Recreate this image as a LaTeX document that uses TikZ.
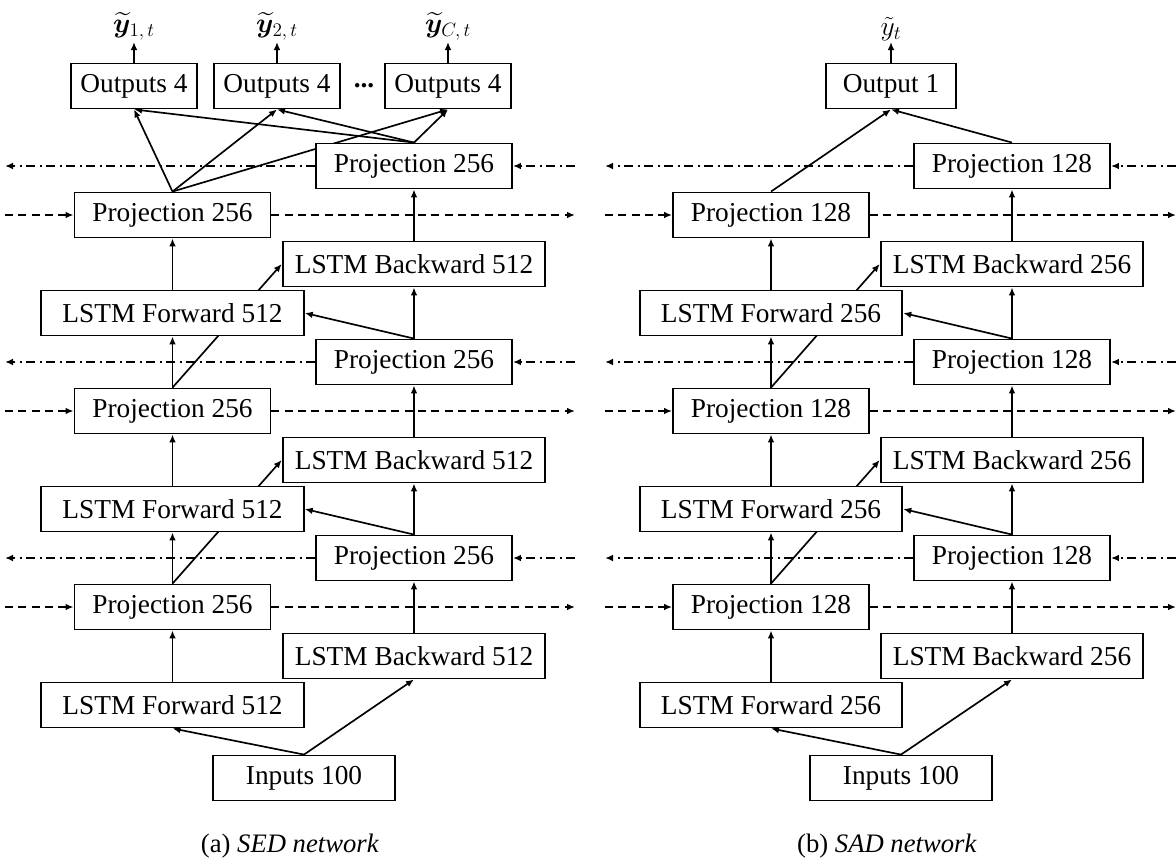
\documentclass[tikz,border=0pt]{standalone}
\usepackage{amsmath}
\usepackage{bm}
\usepackage{fontspec}
\setmainfont{Liberation Serif}
\usetikzlibrary{arrows.meta,backgrounds}

\tikzset{
  box/.style={draw, line width=1.4pt, fill=white, minimum height=33.75pt,
    inner sep=0pt, font=\fontsize{20.5}{23}\selectfont},
  projbox/.style={box, minimum width=147pt},
  lstmbox/.style={box, minimum width=197pt},
  outbox/.style={box, minimum width=94pt},
  inbox/.style={box, minimum width=136.5pt},
  lab/.style={anchor=south, inner sep=1pt, font=\fontsize{22}{24}\selectfont},
  link/.style={line width=1.25pt, -{Latex[length=6pt,width=5pt]}},
  fwdflow/.style={link, dash pattern=on 6pt off 4pt},
  bwdflow/.style={link, dash pattern=on 6.5pt off 3.5pt on 1.5pt off 3.5pt},
}
% subscript of the output labels, set a little larger than \scriptstyle
\newcommand\outsub[1]{\mbox{\fontsize{15.5}{16}\selectfont$#1$}}

% One bidirectional stack:
% #1 prefix, #2 forward column x, #3 backward column x, #4 LSTM units,
% #5 projection units, #6 left end of the flow lines, #7 right end, #8 input x
\newcommand\lstmstack[8]{%
  \coordinate (#1L) at (#6,0);
  \coordinate (#1R) at (#7,0);
  \node[inbox] (#1in) at (#8,778) {Inputs 100};
  \foreach \k in {1,2,3}{
    \pgfmathsetmacro\yF{705-196*(\k-1)}
    \node[lstmbox] (#1F\k) at (#2,\yF) {LSTM Forward #4};
    \node[lstmbox] (#1B\k) at (#3,\yF-49) {LSTM Backward #4};
    \node[projbox] (#1P\k) at (#2,\yF-98) {Projection #5};
    \node[projbox] (#1Q\k) at (#3,\yF-147) {Projection #5};
  }
  \begin{scope}[on background layer]
    \draw[link] (#1in.north) -- (#1F1.south);
    \draw[link] (#1in.north) -- (#1B1.south);
    \foreach \k in {1,2,3}{
      \draw[link] (#1F\k.north) -- (#1P\k.south);
      \draw[link] (#1B\k.north) -- (#1Q\k.south);
      \draw[fwdflow] (#1P\k.west -| #1L) -- (#1P\k.west);
      \draw[fwdflow] (#1P\k.east) -- (#1P\k.east -| #1R);
      \draw[bwdflow] (#1Q\k.east -| #1R) -- (#1Q\k.east);
      \draw[bwdflow] (#1Q\k.west) -- (#1Q\k.west -| #1L);
    }
    \foreach \k/\n in {1/2,2/3}{
      \draw[link] (#1P\k.north) -- (#1F\n.south);
      \draw[link] (#1P\k.north) -- (#1B\n.west);
      \draw[link] (#1Q\k.north) -- (#1B\n.south);
      \draw[link] (#1Q\k.north) -- (#1F\n.east);
    }
  \end{scope}
}

\begin{document}
\begin{tikzpicture}[x=0.75pt,y=-0.75pt]
  \useasboundingbox (0,0) rectangle (1176,864);

  % (a) SED network
  \lstmstack{a}{172.5}{414}{512}{256}{5}{575}{304}
  \node[outbox] (ao1) at (134,86) {Outputs 4};
  \node[outbox] (ao2) at (277,86) {Outputs 4};
  \node[outbox] (ao3) at (448,86) {Outputs 4};
  \node[font=\fontsize{20.5}{23}\selectfont\bfseries, inner sep=0pt] (adots) at (364,86) {...};
  \node[lab] (ay1) at (134,42) {$\widetilde{\bm{y}}_{\outsub{1,t}}$};
  \node[lab] (ay2) at (277,42) {$\widetilde{\bm{y}}_{\outsub{2,t}}$};
  \node[lab] (ay3) at (448,42) {$\widetilde{\bm{y}}_{\outsub{C,t}}$};
  \begin{scope}[on background layer]
    \foreach \i in {1,2,3}{
      \draw[link] (ao\i.north) -- (ay\i.south);
      \draw[link] (aP3.north) -- (ao\i.south);
      \draw[link] (aQ3.north) -- (ao\i.south);
    }
  \end{scope}
  \node[font=\fontsize{20}{23}\selectfont] (capa) at (290,846) {(a) \textit{SED network}};

  % (b) SAD network
  \lstmstack{b}{771}{1012}{256}{128}{605}{1176}{901}
  \node[outbox, minimum width=98pt] (bo) at (891,86) {Output 1};
  \node[lab] (by) at (891,42) {$\tilde{y}_{\outsub{t}}$};
  \begin{scope}[on background layer]
    \draw[link] (bo.north) -- (by.south);
    \draw[link] (bP3.north) -- (bo.south);
    \draw[link] (bQ3.north) -- (bo.south);
  \end{scope}
  \node[font=\fontsize{20}{23}\selectfont] (capb) at (887,846) {(b) \textit{SAD network}};
\end{tikzpicture}
\end{document}
